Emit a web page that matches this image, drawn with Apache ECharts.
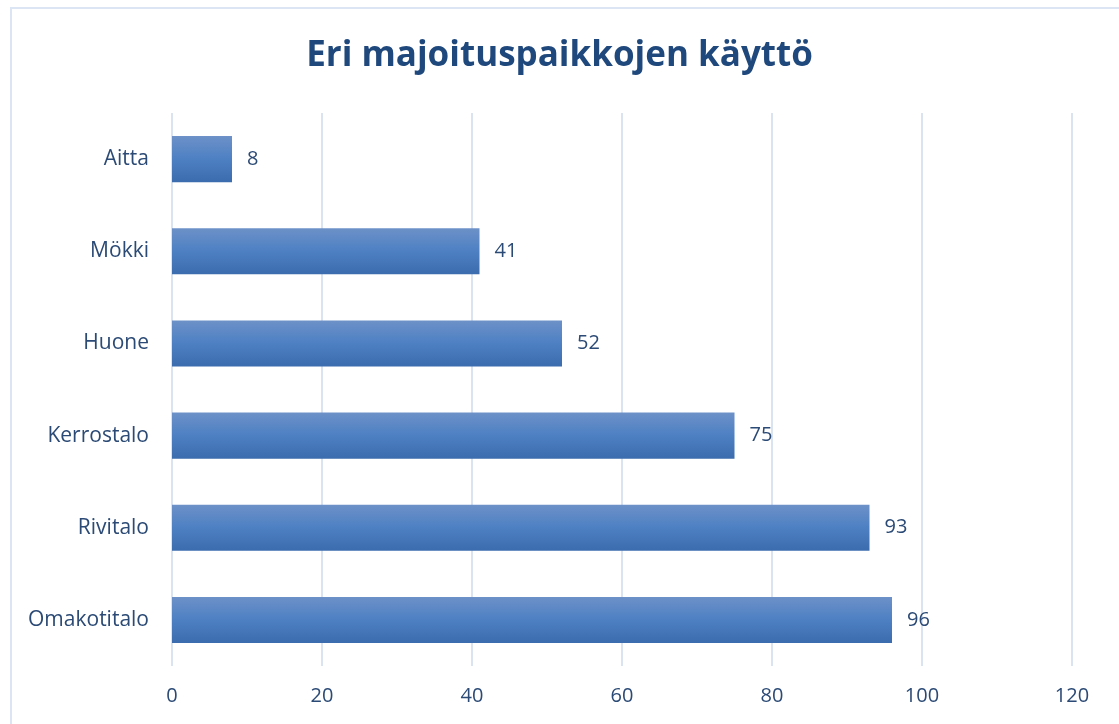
<!DOCTYPE html>
<html>
<head>
<meta charset="utf-8">
<script src="https://cdn.jsdelivr.net/npm/echarts@6/dist/echarts.min.js"></script>
<style>
  html, body { margin: 0; padding: 0; background: #fff; }
  #chart { width: 1119px; height: 724px; }
  #frame { position: absolute; left: 10px; top: 7px; width: 1200px; height: 800px; border: 2px solid #dbe5f3; box-sizing: border-box; pointer-events: none; }
</style>
</head>
<body>
<div id="chart"></div>
<div id="frame"></div>
<script>
// kategoriat alhaalta ylös
const categories = ['Omakotitalo', 'Rivitalo', 'Kerrostalo', 'Huone', 'Mökki', 'Aitta']
const values = [96, 93, 75, 52, 41, 8]

const textColor = '#2b4a75'
const chart = echarts.init(document.getElementById('chart'))

const option = {
  backgroundColor: '#fff',
  textStyle: { fontFamily: 'Open Sans' },
  title: {
    text: 'Eri majoituspaikkojen käyttö',
    left: 'center',
    top: 34,
    textStyle: {
      fontFamily: 'Open Sans',
      fontSize: 35,
      fontWeight: 'bold',
      color: '#1f487c'
    }
  },
  grid: {
    left: 172,
    right: 47,
    top: 113,
    bottom: 58,
    containLabel: false
  },
  xAxis: {
    type: 'value',
    min: 0,
    max: 120,
    interval: 20,
    axisLine: { show: false },
    axisTick: { show: false },
    axisLabel: { color: textColor, fontSize: 20, margin: 20 },
    splitLine: { lineStyle: { color: '#dae4f1', width: 2 } }
  },
  yAxis: {
    type: 'category',
    data: categories,
    axisLine: { show: false },
    axisTick: { show: false },
    axisLabel: { color: textColor, fontSize: 21, margin: 23 }
  },
  series: [{
    type: 'bar',
    data: values,
    barWidth: '50%',
    itemStyle: {
      color: new echarts.graphic.LinearGradient(0, 0, 0, 1, [
        { offset: 0, color: '#6d91c8' },
        { offset: 0.5, color: '#4d80c3' },
        { offset: 1, color: '#3b6cad' }
      ])
    },
    label: {
      show: true,
      position: 'right',
      distance: 15,
      color: textColor,
      fontSize: 20
    },
    animation: false
  }]
}

chart.setOption(option)
</script>
</body>
</html>
